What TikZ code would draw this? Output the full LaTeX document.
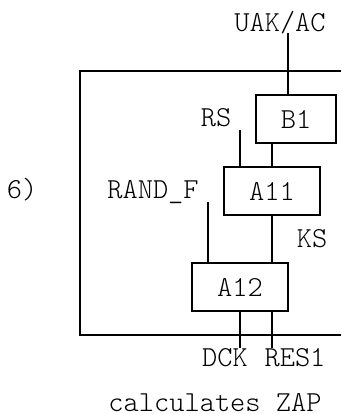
\documentclass[tikz,border=0pt]{standalone}
\usepackage{fontspec}
\setmainfont{Latin Modern Mono Light}
\begin{document}
\begin{tikzpicture}[x=1pt,y=-1pt,
  every node/.style={font=\fontsize{29}{32}\selectfont},
  blk/.style={draw,line width=1.5pt,minimum height=48pt,inner sep=0pt},
  lbl/.style={inner sep=0pt,anchor=base,text depth=0pt},
  wire/.style={line width=1.5pt}]
\useasboundingbox (0,0) rectangle (341,414);
% frame
\draw[wire] (341,71) -- (80,71) -- (80,335) -- (341,335);
% blocks
\node[blk,minimum width=80pt] (B1) at (296,119) {B1};
\node[blk,minimum width=96pt] (A11) at (272,191) {A11};
\node[blk,minimum width=96pt] (A12) at (240,287) {A12};
% free ends
\coordinate (uak) at (288,33);
\coordinate (rs) at (240,130);
\coordinate (rf) at (208,202);
\coordinate (dck) at (240,348);
\coordinate (res) at (272,348);
% wires
\draw[wire] (uak) -- (uak |- B1.north);
\draw[wire] (A11.north) -- (A11.north |- B1.south);
\draw[wire] (rs) -- (rs |- A11.north);
\draw[wire] (rf) -- (rf |- A12.north);
\draw[wire] (A11.south) -- (A11.south |- A12.north);
\draw[wire] (dck |- A12.south) -- (dck);
\draw[wire] (res |- A12.south) -- (res);
% labels
\node[lbl] (luak) at (280,32) {UAK/AC};
\node[lbl] (lrs) at (216,127) {RS};
\node[lbl] (lrf) at (153,198) {RAND\_F};
\node[lbl] (l6) at (22,198) {6)};
\node[lbl] (lks) at (312,247) {KS};
\node[lbl] (ldck) at (225,366) {DCK};
\node[lbl] (lres) at (295,366) {RES1};
\node[lbl] (lcap) at (215,411) {calculates ZAP};
\end{tikzpicture}
\end{document}
